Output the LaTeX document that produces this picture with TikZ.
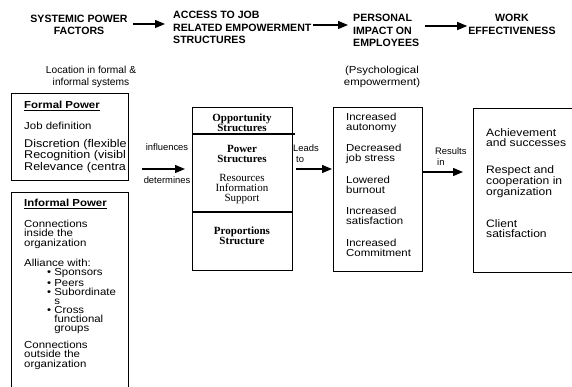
\documentclass[tikz,border=0pt]{standalone}
\usepackage{fontspec}
\setmainfont{Liberation Sans}
\newfontfamily\wsans{Liberation Sans}[FakeStretch=1.12]
\newfontfamily\timesfont{Liberation Serif}
\usetikzlibrary{arrows.meta}

\begin{document}
\begin{tikzpicture}[x=1pt,y=-1pt,
  box/.style={draw,line width=1.1pt,anchor=north west,inner sep=0pt},
  txt/.style={anchor=west,align=left,inner sep=0pt,font=\wsans\fontsize{10.2}{9.5}\selectfont},
  bigtxt/.style={txt,font=\wsans\fontsize{10.8}{9.8}\selectfont},
  head/.style={align=center,inner sep=0pt,font=\bfseries\fontsize{10.6}{12.6}\selectfont},
  stru/.style={align=center,inner sep=0pt,font=\timesfont\bfseries\fontsize{11}{10}\selectfont},
  lbl/.style={align=left,inner sep=0pt,font=\fontsize{9.4}{11}\selectfont},
  arr/.style={-{Triangle[length=10pt,width=8pt]},line width=1.2pt}]
\clip (0,0) rectangle (572,387);

% top row
\node[head] (spf) at (79,25) {SYSTEMIC POWER\\FACTORS};
\node[head,align=left,anchor=west] (ajr) at (173,27.5) {ACCESS TO JOB\\RELATED EMPOWERMENT\\STRUCTURES};
\node[head,align=left,anchor=west] (pim) at (353,30.5) {PERSONAL\\IMPACT ON\\EMPLOYEES};
\node[head] (wef) at (512,24.5) {WORK\\EFFECTIVENESS};
\node[align=center,inner sep=0pt,font=\fontsize{10.2}{12}\selectfont] (loc) at (91,77) {Location in formal \&\\informal systems};
\node[align=center,inner sep=0pt,font=\wsans\fontsize{10.2}{12}\selectfont] (psy) at (382,77) {(Psychological\\empowerment)};

\draw[arr,shorten <=5pt,shorten >=8pt] ([yshift=1pt]spf.east) -- ([yshift=1pt]spf.east -| ajr.west);
\draw[arr,shorten <=1pt,shorten >=5pt] ([yshift=2.5pt]ajr.east) -- ([yshift=2.5pt]ajr.east -| pim.west);
\draw[arr,shorten <=6pt,shorten >=1pt] ([yshift=4.5pt]pim.east) -- ([yshift=4.5pt]pim.east -| wef.west);

% formal power
\node[box,minimum width=117,minimum height=87] (fpw) at (11,93) {};
\node[txt,font=\wsans\bfseries\fontsize{10.2}{9.5}\selectfont] (fpt) at (24,106) {\underline{Formal Power}};
\node[txt] (job) at (24,126) {Job definition};
\begin{scope}
  \clip (11,93) rectangle (127.5,180);
  \node[txt,font=\wsans\fontsize{11.2}{8.8}\selectfont] (dis) at (24,156) {Discretion (flexible\\Recognition (visibl\\Relevance (centra};
\end{scope}

% informal power
\node[box,minimum width=117,minimum height=220] (ifp) at (11,192) {};
\node[txt,font=\wsans\bfseries\fontsize{10.2}{9.5}\selectfont] (ift) at (24,204) {\underline{Informal Power}};
\node[txt] (cin) at (24,234) {Connections\\inside the\\organization};
\node[txt] (all) at (24,263) {Alliance with:};
\node[txt,font=\wsans\fontsize{10.2}{9}\selectfont] (bul) at (47,301) {\textbullet\ Sponsors\\\textbullet\ Peers\\\textbullet\ Subordinate\\\phantom{\textbullet\ }s\\\textbullet\ Cross\\\phantom{\textbullet\ }functional\\\phantom{\textbullet\ }groups};
\node[txt] (cout) at (24,355) {Connections\\outside the\\organization};

% structures
\node[box,minimum width=100,minimum height=163] (ops) at (192,107) {};
\coordinate (l1) at (295,134);
\coordinate (l2) at (292,212);
\draw[line width=1.1pt] (ops.west |- l1) -- (l1);
\draw[line width=1.1pt] (ops.west |- l2) -- (l2);
\node[stru] (opp) at (242,122.5) {Opportunity\\Structures};
\node[stru] (pow) at (242,153.5) {Power\\Structures};
\node[stru,font=\timesfont\fontsize{11}{10}\selectfont] (res) at (242,189.5) {Resources\\Information\\Support};
\node[stru] (prp) at (242,235.5) {Proportions\\Structure};

% impact
\node[box,minimum width=89,minimum height=164] (imp) at (333,107) {};
\node[txt] at (346,123) {Increased\\autonomy};
\node[txt] at (346,154) {Decreased\\job stress};
\node[txt] at (346,185) {Lowered\\burnout};
\node[txt] at (346,216) {Increased\\satisfaction};
\node[txt] at (346,248) {Increased\\Commitment};

% effectiveness
\node[box,minimum width=130,minimum height=164] (eff) at (473,108) {};
\node[bigtxt] at (486,138) {Achievement\\and successes};
\node[bigtxt] at (486,182) {Respect and\\cooperation in\\organization};
\node[bigtxt] at (486,229) {Client\\satisfaction};

% middle arrows
\coordinate (inf) at (142,169);
\coordinate (rsl) at (463,172);
\draw[arr,shorten >=7pt] (inf) -- (inf -| ops.west)
  node[lbl,midway,yshift=22pt] {influences}
  node[lbl,midway,yshift=-11pt] {determines};
\draw[arr,shorten <=3pt,shorten >=1pt] (ops.east |- inf) -- (imp.west |- inf);
\node[lbl,anchor=west] (led) at (293,154) {Leads\\\hspace{3pt}to};
\draw[arr,shorten >=10pt] (imp.east |- rsl) -- (eff.west |- rsl);
\node[lbl,anchor=west] (rin) at (435,157) {Results\\\hspace{2pt}in};
\end{tikzpicture}
\end{document}
